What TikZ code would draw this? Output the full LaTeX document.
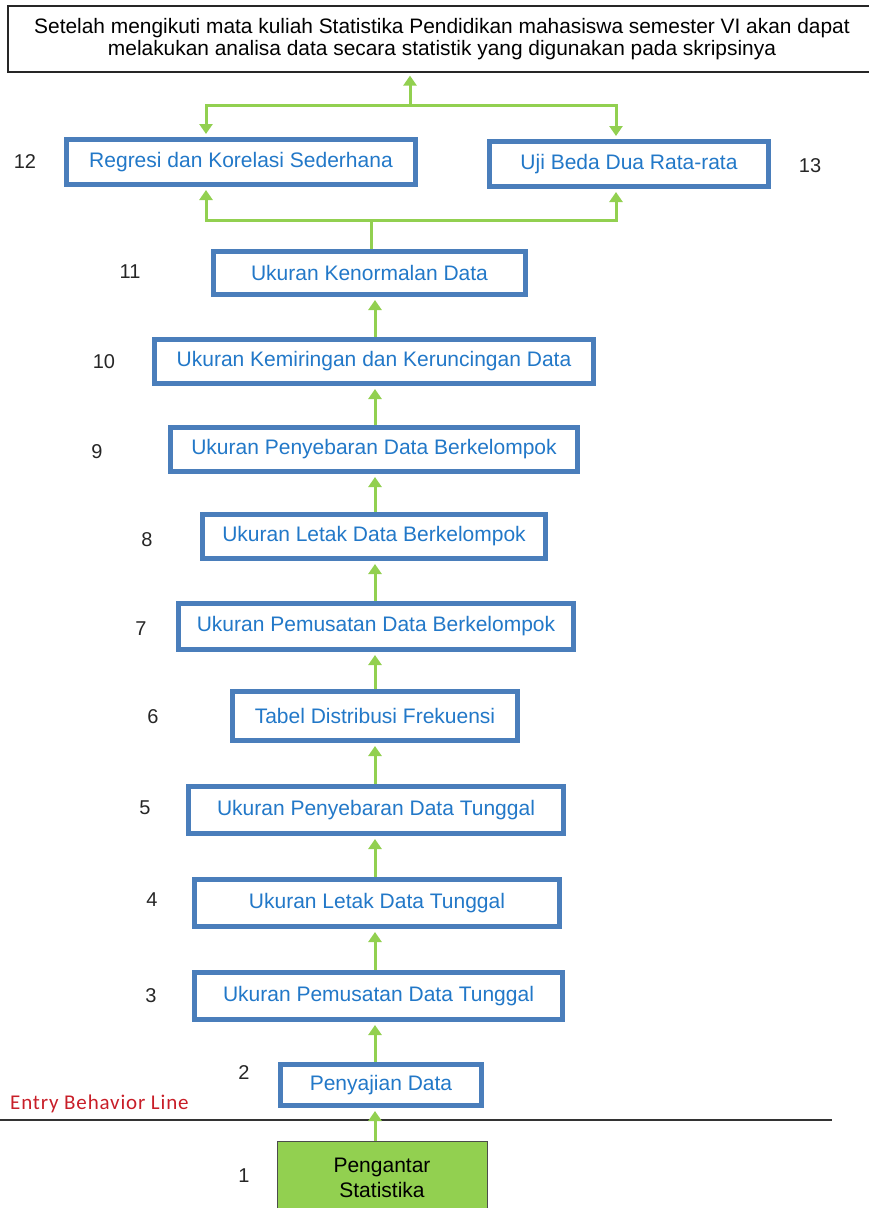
\documentclass[tikz,border=0pt]{standalone}
\usepackage{fontspec}
\setmainfont{Liberation Sans}
\newfontfamily\calibrifont[LetterSpace=4]{Carlito}
\usetikzlibrary{arrows.meta,calc}
\definecolor{boxblue}{RGB}{74,126,187}
\definecolor{txtblue}{RGB}{34,120,200}
\definecolor{arrgreen}{RGB}{146,208,80}
\definecolor{entryred}{RGB}{200,30,40}
\tikzset{
  x=1pt,y=-1pt,
  bluebox/.style={draw=boxblue,line width=5pt,fill=white,text=txtblue,font=\fontsize{21}{23}\selectfont,inner sep=0pt},
  numlabel/.style={font=\fontsize{20}{22}\selectfont,text=black!85},
  arr/.style={draw=arrgreen,line width=3pt,-{Triangle[width=13pt,length=10pt]},shorten >=3pt},
  gline/.style={draw=arrgreen,line width=3pt},
}
\begin{document}
\begin{tikzpicture}
\useasboundingbox (0,0) rectangle (869,1208);
% top goal box
\node[draw=black!85,line width=1.2pt,minimum width=868pt,minimum height=66pt,inner sep=0pt,align=center,font=\fontsize{20.9}{22}\selectfont] (top) at (442,39)
  {Setelah mengikuti mata kuliah Statistika Pendidikan mahasiswa semester VI akan dapat\\melakukan analisa data secara statistik yang digunakan pada skripsinya};
% boxes
\node[bluebox,minimum width=349pt,minimum height=45pt] (b12) at (241,162) {Regresi dan Korelasi Sederhana};
\node[bluebox,minimum width=279pt,minimum height=45pt] (b13) at (629,164) {Uji Beda Dua Rata-rata};
\node[bluebox,minimum width=312pt,minimum height=43pt] (b11) at (369.5,273) {Ukuran Kenormalan Data};
\node[bluebox,minimum width=439pt,minimum height=44pt] (b10) at (374,361.5) {Ukuran Kemiringan dan Keruncingan Data};
\node[bluebox,minimum width=407pt,minimum height=44pt] (b9) at (374,449.5) {Ukuran Penyebaran Data Berkelompok};
\node[bluebox,minimum width=343pt,minimum height=44pt] (b8) at (374,536.5) {Ukuran Letak Data Berkelompok};
\node[bluebox,minimum width=395pt,minimum height=46pt] (b7) at (376,626.5) {Ukuran Pemusatan Data Berkelompok};
\node[bluebox,minimum width=285pt,minimum height=49pt] (b6) at (375,716) {Tabel Distribusi Frekuensi};
\node[bluebox,minimum width=375pt,minimum height=47pt] (b5) at (376,810) {Ukuran Penyebaran Data Tunggal};
\node[bluebox,minimum width=365pt,minimum height=47pt] (b4) at (377,903) {Ukuran Letak Data Tunggal};
\node[bluebox,minimum width=368pt,minimum height=47pt] (b3) at (378.5,996) {Ukuran Pemusatan Data Tunggal};
\node[bluebox,minimum width=201pt,minimum height=41pt] (b2) at (381,1085) {Penyajian Data};
\node[draw=black!70,line width=1pt,fill=arrgreen,minimum width=210pt,minimum height=74pt,inner sep=0pt,align=center,font=\fontsize{21}{25}\selectfont] (b1) at (382,1178) {Pengantar\\Statistika};
% numbers
\node[numlabel] (n12) at (25,162) {12};
\node[numlabel] (n13) at (810,166) {13};
\node[numlabel] (n11) at (130,272) {11};
\node[numlabel] (n10) at (104,362) {10};
\node[numlabel] (n9) at (97,452) {9};
\node[numlabel] (n8) at (147,540) {8};
\node[numlabel] (n7) at (141,629) {7};
\node[numlabel] (n6) at (153,717) {6};
\node[numlabel] (n5) at (145,808) {5};
\node[numlabel] (n4) at (152,900) {4};
\node[numlabel] (n3) at (151,996) {3};
\node[numlabel] (n2) at (244,1073) {2};
\node[numlabel] (n1) at (244,1176) {1};
% entry behavior line
\coordinate (eL) at (0,1120);
\coordinate (eR) at (832,1120);
\draw[black!80,line width=1.3pt] (eL) -- (eR);
\node[anchor=west,text=entryred,font=\calibrifont\fontsize{21}{23}\selectfont,inner sep=0pt] (entry) at (10,1104) {Entry Behavior Line};
% vertical arrows
\coordinate (ax) at (375,0);
\draw[arr] (b1.north -| ax) -- (b2.south -| ax);
\draw[arr] (b2.north -| ax) -- (b3.south -| ax);
\draw[arr] (b3.north -| ax) -- (b4.south -| ax);
\draw[arr] (b4.north -| ax) -- (b5.south -| ax);
\draw[arr] (b5.north -| ax) -- (b6.south -| ax);
\draw[arr] (b6.north -| ax) -- (b7.south -| ax);
\draw[arr] (b7.north -| ax) -- (b8.south -| ax);
\draw[arr] (b8.north -| ax) -- (b9.south -| ax);
\draw[arr] (b9.north -| ax) -- (b10.south -| ax);
\draw[arr] (b10.north -| ax) -- (b11.south -| ax);
% bottom branch
\coordinate (jb) at (371,220);
\coordinate (cl) at (206,0);
\coordinate (cr) at (616,0);
\draw[gline] (b11.north -| jb) -- (jb);
\draw[arr] (jb) -| (b12.south -| cl);
\draw[arr] (jb) -| (b13.south -| cr);
% top branch
\coordinate (jt) at (410,105);
\draw[arr] (jt) -- (top.south -| jt);
\draw[arr] (jt) -| (b12.north -| cl);
\draw[arr] (jt) -| (b13.north -| cr);
\end{tikzpicture}
\end{document}
